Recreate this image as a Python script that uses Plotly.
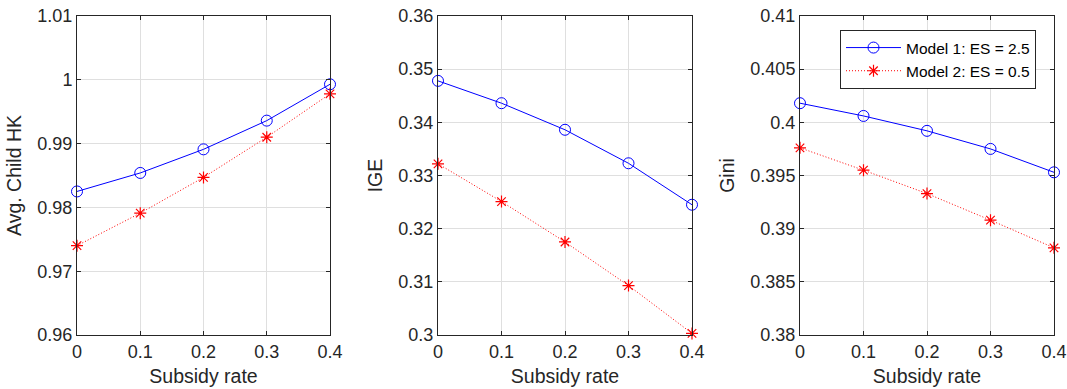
import plotly.graph_objects as go

subsidy = [0, 0.1, 0.2, 0.3, 0.4]

hk_model1 = [0.9825, 0.9854, 0.9891, 0.9936, 0.9993]
hk_model2 = [0.9740, 0.9791, 0.9847, 0.9910, 0.9978]

ige_model1 = [0.3478, 0.3436, 0.3386, 0.3323, 0.3245]
ige_model2 = [0.3322, 0.3251, 0.3175, 0.3093, 0.3003]

gini_model1 = [0.4018, 0.4006, 0.3992, 0.3975, 0.3953]
gini_model2 = [0.3976, 0.3955, 0.3933, 0.3908, 0.3882]

names = ["Model 1: ES = 2.5", "Model 2: ES = 0.5"]
y_titles = ["Avg. Child HK", "IGE", "Gini"]
x_title = "Subsidy rate"
x_ticks = [0, 0.1, 0.2, 0.3, 0.4]
x_ticktext = ["0", "0.1", "0.2", "0.3", "0.4"]

y_ticks = [
    [0.96, 0.97, 0.98, 0.99, 1.0, 1.01],
    [0.30, 0.31, 0.32, 0.33, 0.34, 0.35, 0.36],
    [0.38, 0.385, 0.39, 0.395, 0.40, 0.405, 0.41],
]
y_ticktext = [
    ["0.96", "0.97", "0.98", "0.99", "1", "1.01"],
    ["0.3", "0.31", "0.32", "0.33", "0.34", "0.35", "0.36"],
    ["0.38", "0.385", "0.39", "0.395", "0.4", "0.405", "0.41"],
]

series = [(hk_model1, hk_model2), (ige_model1, ige_model2), (gini_model1, gini_model2)]

W, H = 1067, 389
fig = go.Figure()

x_domains = [(77, 330), (438, 692), (800, 1054)]
y_dom = [1 - 335 / H, 1 - 16 / H]

FONT = "Liberation Sans, Arial, Helvetica, sans-serif"
AX = "#262626"
GRID = "#dfdfdf"

for i, (m1, m2) in enumerate(series):
    xa = "x" if i == 0 else f"x{i+1}"
    ya = "y" if i == 0 else f"y{i+1}"
    fig.add_trace(go.Scatter(
        x=subsidy, y=m1, mode="lines+markers", name=names[0],
        line=dict(color="#0000ff", width=1),
        marker=dict(symbol="circle-open", size=11, color="#0000ff", line=dict(width=1)),
        xaxis=xa, yaxis=ya, showlegend=(i == 2), cliponaxis=False,
    ))
    fig.add_trace(go.Scatter(
        x=subsidy, y=m2, mode="lines+markers", name=names[1],
        line=dict(color="#ff0000", width=1, dash="1px,2px"),
        marker=dict(symbol="asterisk-open", size=10, color="#ff0000", line=dict(width=1.2, color="#ff0000")),
        xaxis=xa, yaxis=ya, showlegend=(i == 2), cliponaxis=False,
    ))

    d0, d1 = x_domains[i]
    xkey = "xaxis" if i == 0 else f"xaxis{i+1}"
    ykey = "yaxis" if i == 0 else f"yaxis{i+1}"
    fig.update_layout(**{
        xkey: dict(
            domain=[d0 / W, d1 / W], anchor=ya, range=[0, 0.4],
            tickvals=x_ticks, ticktext=x_ticktext,
            showgrid=True, gridcolor=GRID, gridwidth=1,
            showline=True, linecolor=AX, linewidth=1, mirror="ticks",
            ticks="inside", ticklen=4, tickcolor=AX,
            tickfont=dict(family=FONT, size=18, color=AX),
            title=dict(text=x_title, font=dict(family=FONT, size=19.5, color=AX), standoff=8),
            zeroline=False, fixedrange=True, automargin=False,
        ),
        ykey: dict(
            domain=y_dom, anchor=xa,
            range=[y_ticks[i][0], y_ticks[i][-1]],
            tickvals=y_ticks[i], ticktext=y_ticktext[i],
            showgrid=True, gridcolor=GRID, gridwidth=1,
            showline=True, linecolor=AX, linewidth=1, mirror="ticks",
            ticks="inside", ticklen=4, tickcolor=AX,
            tickfont=dict(family=FONT, size=18, color=AX),
            title=dict(text=y_titles[i], font=dict(family=FONT, size=19.5, color=AX), standoff=10),
            zeroline=False, fixedrange=True, automargin=False,
        ),
    })

fig.update_layout(
    width=W, height=H,
    margin=dict(l=0, r=0, t=0, b=0, autoexpand=False),
    paper_bgcolor="white", plot_bgcolor="white",
    font=dict(family=FONT, color=AX),
    legend=dict(
        x=840 / W, y=1 - 30 / H, xanchor="left", yanchor="top",
        bgcolor="white", bordercolor=AX, borderwidth=1,
        font=dict(family=FONT, size=15.5, color="#000000"),
        tracegroupgap=0, itemwidth=55,
    ),
    showlegend=True,
)

fig.write_html(
    "out.html",
    config={"displayModeBar": False},
    post_script="document.body.style.margin='0px';document.body.style.overflow='hidden';",
)
